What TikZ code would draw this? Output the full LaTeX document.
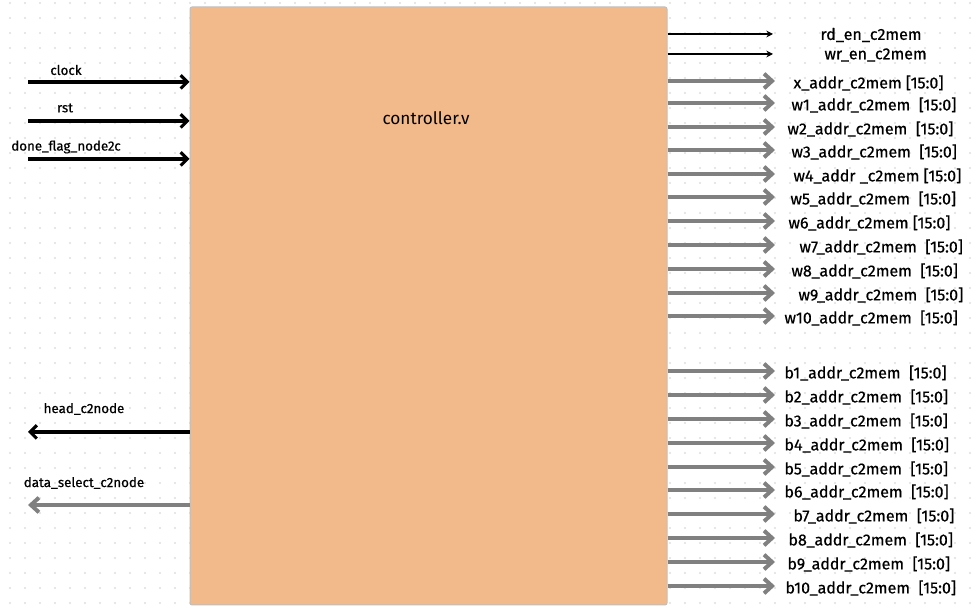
\documentclass[tikz,border=0pt]{standalone}
\usepackage{fontspec}
\setmainfont{Fira Sans}
\newfontfamily\lblfont{Fira Sans}[FakeBold=0.6]
\usetikzlibrary{arrows.meta}

\definecolor{boxfill}{RGB}{242,185,138}
\definecolor{busgray}{RGB}{128,128,128}
\definecolor{dotgray}{RGB}{222,222,222}

\tikzset{every picture/.style={line width=0.75pt}}
\tikzset{
  ctrlbox/.style={draw=black!25, fill=boxfill, rounded corners=1.5pt, minimum width=357.75pt, minimum height=448.5pt, inner sep=0pt},
  sigin/.style={line width=2.3pt, -{Straight Barb[length=5pt,width=10pt]}},
  sigbus/.style={line width=3pt, busgray, -{Straight Barb[length=6pt,width=11pt]}},
  sigthin/.style={line width=1.1pt, -{Stealth[length=5pt,width=5pt]}},
  leftlbl/.style={font=\lblfont\fontsize{10}{12}\selectfont, inner sep=0pt},
  rightlbl/.style={font=\lblfont\fontsize{12}{14}\selectfont, anchor=west, inner sep=0pt}
}

\begin{document}
\begin{tikzpicture}[x=0.75pt,y=0.75pt,yscale=-1,xscale=1]
\useasboundingbox (0,0) rectangle (976,616);

% dotted background
\foreach \gx in {0,...,64} \foreach \gy in {0,...,40} \fill[dotgray] (10+15*\gx,3+15*\gy) circle (0.8pt);

% controller block
\node[ctrlbox] (ctrl) at (428.5,306) {};
\node[font=\fontsize{12.9}{15}\selectfont] (ctrlname) at (426,118) {controller.v};

% inputs
\foreach \y/\name/\lx/\ly [count=\i] in {82/clock/66/70, 121/rst/65/108, 159/done\_flag\_node2c/66/147} {
  \coordinate (in\i) at (28,\y);
  \draw[sigin] (in\i) -- (in\i -| ctrl.west);
  \node[leftlbl] (inlbl\i) at (\lx,\ly) {\name};
}

% outputs to the node side
\coordinate (head) at (28,432);
\draw[sigin] (head -| ctrl.west) -- (head);
\node[leftlbl] (headlbl) at (84,409) {head\_c2node};
\coordinate (dsel) at (28,505);
\draw[sigbus] (dsel -| ctrl.west) -- (dsel);
\node[leftlbl] (dsellbl) at (84,483) {data\_select\_c2node};

% enables to memory
\foreach \y/\name/\lx [count=\i] in {34/rd\_en\_c2mem/820, 54/wr\_en\_c2mem/824} {
  \coordinate (en\i) at (773,\y);
  \draw[sigthin] (en\i -| ctrl.east) -- (en\i);
  \node[rightlbl] (enlbl\i) at (\lx,\y+1) {\name};
}

% address buses to memory
\foreach \y/\name/\lx [count=\i] in {
  81/x\_addr\_c2mem [15:0]/793,
  103/w1\_addr\_c2mem~ [15:0]/791,
  127/w2\_addr\_c2mem~ [15:0]/787,
  150/w3\_addr\_c2mem~ [15:0]/791,
  174/w4\_addr \_c2mem [15:0]/793,
  197/w5\_addr\_c2mem~ [15:0]/790,
  221/w6\_addr\_c2mem [15:0]/788,
  245/w7\_addr\_c2mem~ [15:0]/799,
  269/w8\_addr\_c2mem~ [15:0]/791,
  293/w9\_addr\_c2mem~ [15:0]/798,
  316/w10\_addr\_c2mem~ [15:0]/784,
  371/b1\_addr\_c2mem~ [15:0]/784,
  395/b2\_addr\_c2mem~ [15:0]/784,
  419/b3\_addr\_c2mem~ [15:0]/784,
  443/b4\_addr\_c2mem~ [15:0]/784,
  467/b5\_addr\_c2mem~ [15:0]/784,
  490/b6\_addr\_c2mem~ [15:0]/784,
  514/b7\_addr\_c2mem~ [15:0]/793,
  538/b8\_addr\_c2mem~ [15:0]/788,
  562/b9\_addr\_c2mem~ [15:0]/787,
  586/b10\_addr\_c2mem~ [15:0]/785} {
  \coordinate (bus\i) at (775,\y);
  \draw[sigbus] (bus\i -| ctrl.east) -- (bus\i);
  \node[rightlbl] (buslbl\i) at (\lx,\y+2) {\name};
}

\end{tikzpicture}
\end{document}
